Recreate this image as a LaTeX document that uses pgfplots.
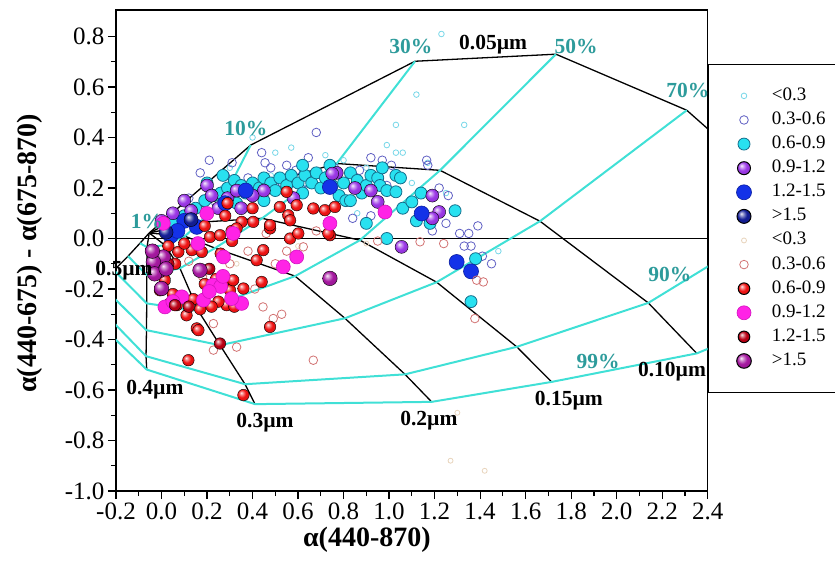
\documentclass[border=0pt]{standalone}
\usepackage{fontspec}
\setmainfont{Liberation Serif}
\usepackage{pgfplots}
\pgfplotsset{compat=1.18}
\makeatletter
\pgfdeclareradialshading[tikz@ball]{ball}{\pgfqpoint{-10bp}{10bp}}{%
 color(0bp)=(tikz@ball!8!white);
 color(8bp)=(tikz@ball!55!white);
 color(17bp)=(tikz@ball);
 color(30bp)=(tikz@ball!92!black);
 color(50bp)=(tikz@ball!65!black)}
\makeatother
\definecolor{cyl}{RGB}{64,224,214}
\definecolor{tealtxt}{RGB}{45,155,155}
\definecolor{gAa}{RGB}{120,215,232}
\definecolor{gAb}{RGB}{95,95,195}
\definecolor{gAc}{RGB}{40,225,240}
\definecolor{gAcE}{RGB}{20,110,140}
\definecolor{gAd}{RGB}{155,55,230}
\definecolor{gAe}{RGB}{20,50,232}
\definecolor{gAeE}{RGB}{10,30,160}
\definecolor{gAf}{RGB}{20,30,150}
\definecolor{gBa}{RGB}{232,212,188}
\definecolor{gBb}{RGB}{210,115,115}
\definecolor{gBc}{RGB}{240,20,20}
\definecolor{gBd}{RGB}{255,35,230}
\definecolor{gBdE}{RGB}{210,20,190}
\definecolor{gBe}{RGB}{185,0,20}
\definecolor{gBf}{RGB}{165,25,160}
\pgfplotsset{
  gridk/.style={black, line width=1.3pt, forget plot, mark=none},
  gridc/.style={cyl, line width=2pt, forget plot, mark=none},
  gA1/.style={only marks, mark=o, mark size=2.8pt, mark options={draw=gAa, line width=0.8pt}},
  gA2/.style={only marks, mark=o, mark size=4.3pt, mark options={draw=gAb, line width=0.8pt}},
  gA3/.style={only marks, mark=*, mark size=6pt, mark options={draw=gAcE, fill=gAc, line width=0.8pt}},
  gA4/.style={only marks, mark=ball, mark size=6.5pt, mark options={ball color=gAd}},
  gA5/.style={only marks, mark=*, mark size=7.5pt, mark options={draw=gAeE, fill=gAe, line width=0.6pt}},
  gA6/.style={only marks, mark=ball, mark size=7pt, mark options={ball color=gAf}},
  gB1/.style={only marks, mark=o, mark size=2.5pt, mark options={draw=gBa, line width=0.8pt}},
  gB2/.style={only marks, mark=o, mark size=4.3pt, mark options={draw=gBb, line width=0.8pt}},
  gB3/.style={only marks, mark=ball, mark size=5.8pt, mark options={ball color=gBc}},
  gB4/.style={only marks, mark=*, mark size=7pt, mark options={draw=gBdE, fill=gBd, line width=0.6pt}},
  gB5/.style={only marks, mark=ball, mark size=5.8pt, mark options={ball color=gBe}},
  gB6/.style={only marks, mark=ball, mark size=7.3pt, mark options={ball color=gBf}},
}
\begin{document}
\begin{tikzpicture}
\begin{axis}[
  at={(0pt,0pt)}, anchor=south west,
  width=591.7pt, height=481pt, scale only axis,
  xmin=-0.2, xmax=2.4, ymin=-1.0, ymax=0.905,
  xtick={-0.2,0,0.2,0.4,0.6,0.8,1.0,1.2,1.4,1.6,1.8,2.0,2.2,2.4},
  ytick={-1.0,-0.8,-0.6,-0.4,-0.2,0,0.2,0.4,0.6,0.8},
  minor x tick num=1, minor y tick num=1,
  tick align=outside, tick pos=left,
  major tick length=8pt, minor tick length=5pt,
  tick style={black, line width=1.2pt},
  axis line style={line width=1.3pt},
  /pgf/number format/assume math mode=true,
  ticklabel style={font=\fontsize{25}{30}\selectfont},
  xticklabel style={/pgf/number format/fixed, /pgf/number format/fixed zerofill, /pgf/number format/precision=1},
  yticklabel style={/pgf/number format/fixed, /pgf/number format/fixed zerofill, /pgf/number format/precision=1},
  xlabel={α(440-870)},
  ylabel={α(440-675) - α(675-870)},
  label style={font=\bfseries\fontsize{28}{32}\selectfont},
  x label style={at={(axis description cs:0.424,-0.102)}, anchor=center},
  y label style={at={(axis description cs:-0.1453,0.494)}, anchor=center},
  legend cell align=left,
  legend style={at={(1,0.888)}, anchor=north west, draw=black, line width=1pt,
    font=\fontsize{19}{22}\selectfont, inner xsep=28pt, inner ysep=22pt,
    row sep=5.1pt, column sep=19pt,
    nodes={inner sep=1pt, text height=13pt, text depth=4pt}},
]
% zero line
\addplot[black, line width=1.3pt, forget plot] coordinates {(-0.2,0) (2.4,0)};
% fine-mode radius lines
\addplot[gridk] coordinates {(-0.054,0.022) (0.392,0.370) (1.114,0.702) (1.733,0.730) (2.308,0.508) (2.805,0.112) (3.025,-0.205)};
\addplot[gridk] coordinates {(-0.054,0.022) (0.279,0.171) (0.770,0.297) (1.224,0.270) (1.663,0.0685) (2.139,-0.255) (2.352,-0.455)};
\addplot[gridk] coordinates {(-0.054,0.022) (0.169,0.0646) (0.442,0.080) (0.872,-0.0067) (1.209,-0.173) (1.561,-0.429) (1.714,-0.568)};
\addplot[gridk] coordinates {(-0.054,0.022) (0.103,0.009) (0.235,-0.038) (0.587,-0.149) (0.806,-0.316) (1.070,-0.538) (1.187,-0.647)};
\addplot[gridk] coordinates {(-0.054,0.022) (0.015,-0.0265) (0.081,-0.118) (0.162,-0.287) (0.257,-0.4225) (0.367,-0.577) (0.411,-0.656)};
\addplot[gridk] coordinates {(-0.054,0.022) (-0.0637,-0.0345) (-0.0646,-0.145) (-0.065,-0.257) (-0.066,-0.363) (-0.068,-0.466) (-0.065,-0.519)};
\addplot[gridk] coordinates {(-0.054,0.022) (-0.0945,-0.0186) (-0.147,-0.070) (-0.2,-0.118) (-0.314,-0.225)};
% fine-mode fraction lines
\addplot[gridc] coordinates {(-0.0945,-0.0186) (-0.0637,-0.0345) (0.015,-0.0265) (0.103,0.009) (0.169,0.0646) (0.279,0.171) (0.392,0.370)};
\addplot[gridc] coordinates {(-0.147,-0.070) (-0.0646,-0.145) (0.081,-0.118) (0.235,-0.038) (0.442,0.080) (0.770,0.297) (1.114,0.702)};
\addplot[gridc] coordinates {(-0.270,-0.070) (-0.065,-0.257) (0.162,-0.287) (0.587,-0.149) (0.872,-0.0067) (1.224,0.270) (1.733,0.730)};
\addplot[gridc] coordinates {(-0.270,-0.181) (-0.066,-0.363) (0.257,-0.4225) (0.806,-0.316) (1.209,-0.173) (1.663,0.0685) (2.308,0.508)};
\addplot[gridc] coordinates {(-0.270,-0.278) (-0.068,-0.466) (0.367,-0.577) (1.070,-0.538) (1.561,-0.429) (2.139,-0.255) (2.805,0.112)};
\addplot[gridc] coordinates {(-0.270,-0.341) (-0.065,-0.519) (0.411,-0.656) (1.187,-0.647) (1.714,-0.568) (2.352,-0.455) (3.025,-0.205)};
% group 1
\addplot[gA1] coordinates {(1.23,0.81) (1.12,0.57) (1.03,0.45) (1.33,0.45) (0.57,0.36) (0.40,0.40) (0.99,0.37) (1.03,0.34) (1.06,0.34) (1.17,0.30) (0.62,0.30) (0.72,0.33) (0.48,0.25) (0.30,0.28) (0.90,0.28) (1.10,0.22) (0.18,0.13) (1.48,-0.05) (0.86,0.10) (0.50,0.34) (0.27,0.20) (1.25,0.18) (0.80,0.31) (0.39,0.11)};
\addlegendentry{<0.3}
\addplot[gA2] coordinates {(0.68,0.42) (0.44,0.34) (0.455,0.30) (0.48,0.28) (0.645,0.32) (0.92,0.32) (0.97,0.31) (1.01,0.29) (1.165,0.31) (1.17,0.29) (1.22,0.20) (0.38,0.24) (0.59,0.27) (0.21,0.31) (0.31,0.30) (1.31,0.02) (1.35,0.02) (1.39,0.05) (1.33,-0.03) (1.36,-0.03) (1.45,-0.10) (1.25,0.06) (1.19,0.03) (0.84,0.08) (0.55,0.29) (0.76,0.28) (0.28,0.25) (0.12,0.16) (0.06,0.10) (0.35,0.20) (0.64,0.22) (0.99,0.21) (1.06,0.12) (1.26,0.17) (0.23,0.15) (0.92,0.09) (0.53,0.22) (0.87,0.27) (0.17,0.26) (1.41,-0.07)};
\addlegendentry{0.3-0.6}
\addplot[gA3] coordinates {(0.15,0.12) (0.19,0.15) (0.23,0.17) (0.26,0.18) (0.29,0.20) (0.32,0.23) (0.35,0.21) (0.37,0.18) (0.40,0.22) (0.43,0.20) (0.45,0.24) (0.48,0.22) (0.50,0.19) (0.52,0.24) (0.55,0.21) (0.57,0.25) (0.60,0.22) (0.62,0.18) (0.63,0.25) (0.66,0.22) (0.68,0.26) (0.70,0.20) (0.72,0.24) (0.75,0.21) (0.78,0.17) (0.80,0.22) (0.81,0.15) (0.83,0.26) (0.86,0.23) (0.88,0.18) (0.90,0.21) (0.92,0.25) (0.95,0.24) (0.96,0.21) (0.99,0.19) (1.03,0.25) (1.05,0.24) (1.03,0.185) (1.06,0.12) (1.10,0.145) (1.12,0.07) (1.18,0.06) (1.14,0.18) (1.29,0.11) (1.38,-0.08) (1.36,-0.25) (0.99,0.0) (0.90,0.06) (0.83,0.15) (0.10,0.09) (0.05,0.06) (0.20,0.22) (0.27,0.25) (0.62,0.29) (0.45,0.15) (0.33,0.14) (0.74,0.29) (0.97,0.28)};
\addlegendentry{0.6-0.9}
\addplot[gA4] coordinates {(0.77,0.26) (0.85,0.20) (0.92,0.19) (0.95,0.145) (1.19,0.17) (1.22,0.105) (1.19,0.08) (1.055,-0.033) (0.75,0.257) (0.45,0.19) (0.20,0.21) (0.10,0.15) (0.05,0.10) (0.22,0.17) (0.29,0.16) (0.35,0.12) (0.40,0.17) (0.13,0.11) (0.00,0.07) (0.25,0.12) (0.58,0.16) (0.33,0.19)};
\addlegendentry{0.9-1.2}
\addplot[gA5] coordinates {(0.74,0.204) (1.143,0.099) (1.297,-0.093) (1.36,-0.13) (0.155,0.046) (0.04,0.01) (0.37,0.19) (0.10,0.07) (0.07,0.03) (0.28,0.14)};
\addlegendentry{1.2-1.5}
\addplot[gA6] coordinates {(0.02,0.025) (0.13,0.075)};
\addlegendentry{>1.5}
% group 2
\addplot[gB1] coordinates {(1.30,-0.69) (1.27,-0.88) (1.42,-0.92) (0.60,-0.03) (0.33,-0.10) (0.90,-0.02)};
\addlegendentry{<0.3}
\addplot[gB2] coordinates {(0.446,-0.271) (0.528,-0.30) (0.491,-0.317) (0.667,-0.482) (0.228,-0.337) (0.228,-0.442) (0.33,-0.43) (1.136,-0.013) (1.385,-0.165) (1.377,-0.317) (1.414,-0.172) (0.623,-0.033) (0.41,-0.20) (0.30,-0.10) (0.55,-0.05) (0.46,0.02) (0.95,-0.01) (0.18,-0.15) (0.50,-0.10) (0.68,0.03) (0.38,-0.05) (0.12,-0.09) (1.24,-0.02)};
\addlegendentry{0.3-0.6}
\addplot[gB3] coordinates {(0.55,0.185) (0.52,0.125) (0.594,0.132) (0.667,0.119) (0.718,0.112) (0.762,0.125) (0.557,0.092) (0.477,0.04) (0.565,0.0) (0.601,0.02) (0.447,-0.046) (0.74,0.013) (0.44,-0.172) (0.477,-0.35) (0.074,-0.053) (0.133,-0.046) (0.177,-0.053) (0.213,0.006) (0.257,0.013) (0.308,0.03) (0.352,0.066) (0.403,0.066) (0.477,0.053) (0.565,0.072) (0.733,0.02) (0.418,-0.086) (0.155,-0.356) (0.11,-0.304) (0.118,-0.482) (0.301,-0.205) (0.272,-0.172) (0.36,-0.198) (0.315,-0.165) (0.213,-0.205) (0.19,-0.18) (0.286,-0.264) (0.067,-0.264) (0.037,-0.257) (0.015,-0.165) (-0.007,-0.205) (0.008,-0.126) (0.36,-0.62) (0.162,-0.363) (0.25,-0.25) (0.32,-0.27) (0.17,-0.28) (0.06,-0.10) (0.10,-0.02) (0.03,-0.03) (0.26,-0.06) (0.31,-0.01) (0.19,0.05) (0.28,0.09) (0.33,0.04) (0.40,0.12) (0.22,-0.27) (0.14,-0.24) (0.24,-0.16) (0.05,-0.22) (0.29,0.14)};
\addlegendentry{0.6-0.9}
\addplot[gB4] coordinates {(0.594,-0.073) (0.535,-0.112) (0.315,0.02) (0.226,-0.185) (0.26,-0.19) (0.352,-0.257) (0.308,-0.238) (0.184,-0.244) (0.015,-0.271) (0.089,-0.231) (0.199,0.099) (0.272,-0.073) (0.982,0.105) (0.74,0.06) (0.05,-0.25) (0.27,-0.15) (0.21,-0.21) (0.008,0.06) (0.16,-0.02)};
\addlegendentry{0.9-1.2}
\addplot[gB5] coordinates {(0.257,-0.416) (0.059,-0.264) (0.12,-0.27) (0.03,-0.10) (0.21,-0.12)};
\addlegendentry{1.2-1.5}
\addplot[gB6] coordinates {(0.74,-0.158) (-0.014,-0.099) (0.008,-0.073) (-0.007,-0.126) (-0.036,-0.093) (0.0,-0.198) (-0.03,-0.14) (0.02,-0.12) (0.169,-0.126) (-0.04,-0.05)};
\addlegendentry{>1.5}
% label anchors
\coordinate (L1) at (axis cs:-0.064,0.068);
\coordinate (L10) at (axis cs:0.371,0.436);
\coordinate (L30) at (axis cs:1.096,0.762);
\coordinate (L005) at (axis cs:1.457,0.766);
\coordinate (L50) at (axis cs:1.822,0.762);
\coordinate (L70) at (axis cs:2.313,0.588);
\coordinate (L90) at (axis cs:2.234,-0.142);
\coordinate (L99) at (axis cs:1.918,-0.486);
\coordinate (L010) at (axis cs:2.243,-0.529);
\coordinate (L015) at (axis cs:1.790,-0.644);
\coordinate (L02) at (axis cs:1.175,-0.720);
\coordinate (L03) at (axis cs:0.455,-0.728);
\coordinate (L04) at (axis cs:-0.029,-0.597);
\coordinate (L05) at (axis cs:-0.165,-0.127);
\end{axis}
\begin{scope}[every node/.style={font=\bfseries\fontsize{21.5}{24}\selectfont, inner sep=0pt}]
\node[text=tealtxt] at (L1) {1\%};
\node[text=tealtxt] at (L10) {10\%};
\node[text=tealtxt] at (L30) {30\%};
\node[text=tealtxt] at (L50) {50\%};
\node[text=tealtxt] at (L70) {70\%};
\node[text=tealtxt] at (L90) {90\%};
\node[text=tealtxt] at (L99) {99\%};
\node at (L005) {0.05µm};
\node at (L010) {0.10µm};
\node at (L015) {0.15µm};
\node at (L02) {0.2µm};
\node at (L03) {0.3µm};
\node at (L04) {0.4µm};
\node at (L05) {0.5µm};
\end{scope}
\pgfresetboundingbox
\path[use as bounding box] (-116pt,-72pt) rectangle (719pt,491pt);
\end{tikzpicture}
\end{document}
